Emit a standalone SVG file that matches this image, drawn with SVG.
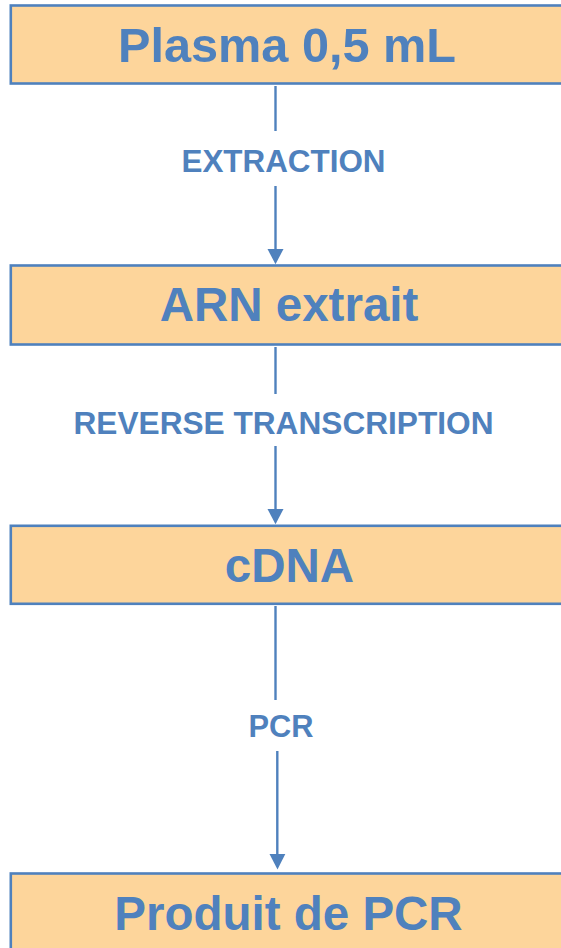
<svg xmlns="http://www.w3.org/2000/svg" width="561" height="948" viewBox="0 0 561 948">
<style>
.box{fill:#fdd59b;stroke:#4f81bd;stroke-width:2.6}
.big{font-family:"Liberation Sans",Arial,sans-serif;font-weight:bold;font-size:47.5px;fill:#4f81bd;text-anchor:middle}
.lbl{font-family:"Liberation Sans",Arial,sans-serif;font-weight:bold;font-size:31.5px;fill:#4f81bd;text-anchor:middle}
.ln{stroke:#4f81bd;stroke-width:2.4;fill:none}
.ah{fill:#4f81bd}
</style>
<g id="n1"><rect class="box" x="10.8" y="5.5" width="570" height="78"/><text class="big" x="287" y="61.5" textLength="338" lengthAdjust="spacingAndGlyphs">Plasma 0,5 mL</text></g>
<g id="n2"><rect class="box" x="10.8" y="265.5" width="570" height="79"/><text class="big" x="289" y="321">ARN extrait</text></g>
<g id="n3"><rect class="box" x="10.8" y="525.8" width="570" height="78"/><text class="big" x="289.5" y="581.7">cDNA</text></g>
<g id="n4"><rect class="box" x="10.8" y="873.5" width="570" height="90"/><text class="big" x="288.5" y="930">Produit de PCR</text></g>
<g id="connectors">
<line class="ln" x1="275.5" y1="86" x2="275.5" y2="131"/>
<line class="ln" x1="275.5" y1="186" x2="275.5" y2="250"/>
<polygon class="ah" points="267.5,249 283.5,249 275.5,264.3"/>
<text class="lbl" x="283.5" y="172" textLength="204" lengthAdjust="spacingAndGlyphs">EXTRACTION</text>
<line class="ln" x1="275.5" y1="347" x2="275.5" y2="394"/>
<line class="ln" x1="275.5" y1="446" x2="275.5" y2="510"/>
<polygon class="ah" points="267.5,509 283.5,509 275.5,524.3"/>
<text class="lbl" x="283.5" y="434" textLength="420" lengthAdjust="spacingAndGlyphs">REVERSE TRANSCRIPTION</text>
<line class="ln" x1="275.5" y1="606" x2="275.5" y2="700"/>
<line class="ln" x1="277.3" y1="751" x2="277.3" y2="855"/>
<polygon class="ah" points="269.5,854 285.3,854 277.5,869.5"/>
<text class="lbl" x="281" y="737" textLength="65" lengthAdjust="spacingAndGlyphs">PCR</text>
</g>
</svg>
